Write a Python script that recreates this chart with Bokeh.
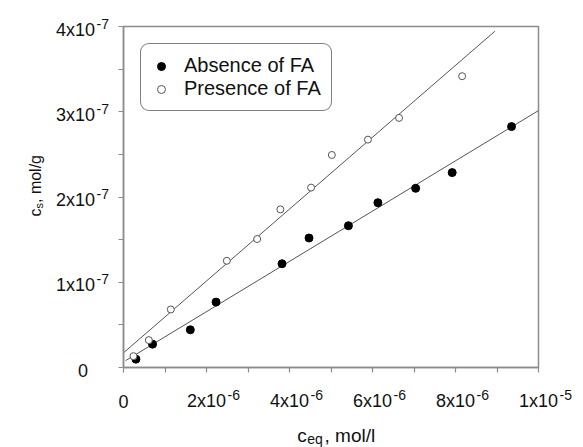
import math
from bokeh.plotting import figure
from bokeh.models import FixedTicker, Legend, LegendItem, Range1d
from bokeh.core.properties import value
from bokeh.embed import file_html
from bokeh.resources import INLINE

# ---- data ----
ceq_absence = [0.30e-6, 0.70e-6, 1.61e-6, 2.23e-6, 3.82e-6, 4.47e-6, 5.42e-6, 6.13e-6, 7.04e-6, 7.92e-6, 9.35e-6]
cs_absence = [0.98e-8, 2.74e-8, 4.42e-8, 7.67e-8, 1.217e-7, 1.519e-7, 1.663e-7, 1.933e-7, 2.102e-7, 2.286e-7, 2.826e-7]

ceq_presence = [0.24e-6, 0.61e-6, 1.14e-6, 2.49e-6, 3.22e-6, 3.78e-6, 4.52e-6, 5.02e-6, 5.89e-6, 6.64e-6, 8.16e-6]
cs_presence = [1.33e-8, 3.21e-8, 6.81e-8, 1.252e-7, 1.507e-7, 1.855e-7, 2.110e-7, 2.493e-7, 2.673e-7, 2.928e-7, 3.417e-7]

fit_absence_x = [0.05e-6, 1.0e-5]
fit_absence_y = [0.08e-7, 3.014e-7]
fit_presence_x = [0.0, 8.95e-6]
fit_presence_y = [0.172e-7, 3.945e-7]

x_ticks = [0, 2e-6, 4e-6, 6e-6, 8e-6, 1e-5]
x_tick_bases = ["0", "2x10", "4x10", "6x10", "8x10", "1x10"]
x_tick_exps = ["", "-6", "-6", "-6", "-6", "-5"]
x_minor_ticks = [1e-6, 3e-6, 5e-6, 7e-6, 9e-6]

y_ticks = [0, 1e-7, 2e-7, 3e-7, 4e-7]
y_tick_bases = ["0", "1x10", "2x10", "3x10", "4x10"]
y_tick_exps = ["", "-7", "-7", "-7", "-7"]
y_minor_ticks = [0.5e-7, 1.5e-7, 2.5e-7, 3.5e-7]

series_names = ["Absence of FA", "Presence of FA"]

FONT = "Liberation Sans"
AXIS_GRAY = "#8c8c8c"
TEXT = "#111111"

p = figure(width=583, height=447,
           x_range=Range1d(0, 1e-5), y_range=Range1d(0, 4e-7),
           output_backend="svg", toolbar_location=None,
           min_border_left=123, min_border_right=45,
           min_border_top=26, min_border_bottom=80)
p.background_fill_color = "white"
p.border_fill_color = "white"
p.grid.visible = False
p.outline_line_color = AXIS_GRAY
p.outline_line_width = 1.5

for ax in (p.xaxis[0], p.yaxis[0]):
    ax.axis_line_color = AXIS_GRAY
    ax.axis_line_width = 1.5
    ax.major_tick_line_color = AXIS_GRAY
    ax.minor_tick_line_color = AXIS_GRAY
    ax.major_tick_line_width = 1.2
    ax.minor_tick_line_width = 1.2
    ax.major_tick_in = 0
    ax.major_tick_out = 5
    ax.minor_tick_in = 0
    ax.minor_tick_out = 5

p.xaxis.ticker = FixedTicker(ticks=x_ticks, minor_ticks=x_minor_ticks)
p.yaxis.ticker = FixedTicker(ticks=y_ticks, minor_ticks=y_minor_ticks)
# tick labels are drawn below as base + superscript texts
p.xaxis.major_label_overrides = {t: "" for t in x_ticks}
p.yaxis.major_label_overrides = {t: "" for t in y_ticks}

# fitted lines
p.line(fit_absence_x, fit_absence_y, line_color="#555555", line_width=1)
p.line(fit_presence_x, fit_presence_y, line_color="#555555", line_width=1)

# points
r_abs = p.scatter(ceq_absence, cs_absence, marker="circle", size=8,
                  fill_color="black", line_color="black")
r_pre = p.scatter(ceq_presence, cs_presence, marker="circle", size=7,
                  fill_color="white", line_color="#555555", line_width=1)

legend = Legend(items=[LegendItem(label=series_names[0], renderers=[r_abs]),
                       LegendItem(label=series_names[1], renderers=[r_pre])],
                location="top_left", margin=17, padding=10, spacing=0,
                glyph_width=20, glyph_height=20, label_standoff=13,
                label_text_font=FONT, label_text_font_size="20px",
                label_text_color=TEXT,
                border_line_color="black", border_line_width=1,
                background_fill_color="white", background_fill_alpha=1)
try:
    legend.border_radius = 9
except AttributeError:
    pass
p.add_layout(legend)

x0 = p.x_range.start
y0 = p.y_range.start

def texts(xs, ys, strs, dx, dy, size, align="left", angle=0.0):
    p.text(x=list(xs), y=list(ys), text=list(strs), x_offset=dx, y_offset=dy,
           angle=angle, text_align=align, text_baseline="alphabetic",
           text_font=value(FONT), text_font_size=size, text_color=TEXT,
           level="overlay")

# ---- x tick labels: base centred on the tick, exponent raised after it ----
BASE = 18
SUP = 14
half_base = 2.168 * BASE / 2
texts(x_ticks, [y0] * len(x_ticks), x_tick_bases, 0, 33.5, f"{BASE}px", "center")
xs_e = [t for t, e in zip(x_ticks, x_tick_exps) if e]
es_x = [e for e in x_tick_exps if e]
texts(xs_e, [y0] * len(xs_e), es_x, half_base + 1.5, 27.5, f"{SUP}px", "left")

# ---- y tick labels: whole label centred left of the axis ----
ys_b = [t for t, e in zip(y_ticks, y_tick_exps) if e]
bs_y = [b for b, e in zip(y_tick_bases, y_tick_exps) if e]
es_y = [e for e in y_tick_exps if e]
ys_z = [t for t, e in zip(y_ticks, y_tick_exps) if not e]
bs_z = [b for b, e in zip(y_tick_bases, y_tick_exps) if not e]
texts([x0] * len(ys_b), ys_b, bs_y, -28.4, 3, f"{BASE}px", "right")
texts([x0] * len(ys_b), ys_b, es_y, -26.9, -3, f"{SUP}px", "left")
texts([x0] * len(ys_z), ys_z, bs_z, -40.5, 3, f"{BASE}px", "center")

# ---- axis titles with subscripts ----
# x title: c_eq, mol/l
texts([x0], [y0], ["c"], 173.7, 68, "19px")
texts([x0], [y0], ["eq"], 183.7, 71, "14px")
texts([x0], [y0], [", mol/l"], 201, 68, "19px")

# y title: c_s, mol/g (rotated, reading upward)
texts([x0], [y0], ["c"], -88.2, -151, "16px", "left", math.pi / 2)
texts([x0], [y0], ["s"], -85.0, -159, "11px", "left", math.pi / 2)
texts([x0], [y0], [", mol/g"], -88.2, -164.5, "16px", "left", math.pi / 2)

open("out.html", "w").write(file_html(p, INLINE))
